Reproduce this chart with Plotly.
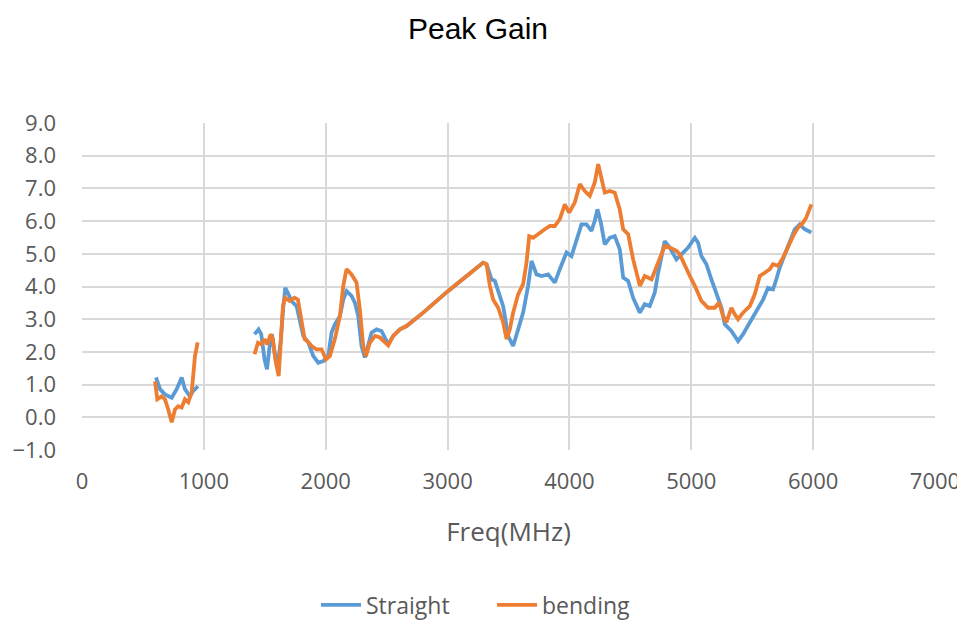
import plotly.graph_objects as go

# ---- data ----
straight_freq_lo = [607, 640, 681, 736, 777, 818, 845, 886, 911, 952]
straight_gain_lo = [1.22, 0.86, 0.70, 0.60, 0.86, 1.22, 0.86, 0.64, 0.80, 0.95]

straight_freq_hi = [1416, 1449, 1471, 1498, 1518, 1540, 1559, 1580, 1605, 1630, 1650, 1668, 1695,
                    1720, 1761, 1788, 1816, 1857, 1898, 1939, 1980, 2021, 2048, 2075, 2117, 2144,
                    2171, 2212, 2240, 2267, 2294, 2321, 2349, 2376, 2417, 2458, 2513, 2554, 2609,
                    2663, 2800, 3000, 3200, 3292, 3320, 3361, 3388, 3429, 3456, 3497, 3538, 3579,
                    3620, 3661, 3689, 3730, 3771, 3825, 3880, 3921, 3976, 4017, 4057, 4099, 4140,
                    4181, 4208, 4230, 4258, 4290, 4331, 4372, 4413, 4441, 4482, 4523, 4578, 4618,
                    4659, 4700, 4728, 4782, 4823, 4878, 4919, 4974, 5029, 5056, 5083, 5124, 5165,
                    5206, 5248, 5275, 5329, 5384, 5425, 5480, 5534, 5589, 5630, 5671, 5698, 5726,
                    5767, 5808, 5849, 5890, 5931, 5985]
straight_gain_hi = [2.54, 2.69, 2.54, 1.77, 1.47, 2.18, 2.54, 1.98, 1.60, 2.30, 3.30, 3.96, 3.76,
                    3.55, 3.40, 2.90, 2.49, 2.29, 1.87, 1.67, 1.72, 1.87, 2.59, 2.84, 3.10, 3.60,
                    3.86, 3.71, 3.50, 3.10, 2.18, 1.83, 2.18, 2.59, 2.69, 2.64, 2.23, 2.49, 2.69,
                    2.79, 3.20, 3.85, 4.45, 4.73, 4.68, 4.22, 4.17, 3.71, 3.40, 2.49, 2.18, 2.69,
                    3.20, 4.02, 4.78, 4.37, 4.32, 4.37, 4.12, 4.53, 5.04, 4.93, 5.44, 5.90, 5.90,
                    5.70, 6.01, 6.36, 5.95, 5.29, 5.49, 5.54, 5.14, 4.27, 4.17, 3.65, 3.20, 3.46,
                    3.40, 3.81, 4.42, 5.39, 5.19, 4.83, 4.98, 5.19, 5.49, 5.34, 4.93, 4.68, 4.22,
                    3.81, 3.35, 2.84, 2.64, 2.33, 2.54, 2.90, 3.25, 3.60, 3.96, 3.91, 4.22, 4.58,
                    4.98, 5.39, 5.75, 5.90, 5.75, 5.65]

bending_freq_lo = [599, 618, 654, 681, 708, 736, 763, 790, 818, 845, 872, 900, 927, 949]
bending_gain_lo = [1.10, 0.55, 0.64, 0.55, 0.24, -0.15, 0.24, 0.34, 0.30, 0.55, 0.46, 0.76, 1.87, 2.29]

bending_freq_hi = [1416, 1444, 1471, 1498, 1520, 1548, 1567, 1586, 1614, 1630, 1649, 1668, 1703,
                   1744, 1772, 1799, 1827, 1857, 1884, 1925, 1966, 2002, 2034, 2075, 2117, 2144,
                   2171, 2212, 2253, 2280, 2308, 2330, 2362, 2404, 2445, 2513, 2554, 2609, 2663,
                   2800, 3000, 3200, 3292, 3320, 3347, 3374, 3415, 3456, 3484, 3511, 3538, 3579,
                   3620, 3648, 3670, 3702, 3757, 3798, 3839, 3880, 3921, 3962, 3998, 4044, 4085,
                   4126, 4167, 4208, 4236, 4263, 4290, 4331, 4372, 4413, 4441, 4482, 4523, 4578,
                   4618, 4674, 4728, 4782, 4823, 4878, 4906, 4947, 4988, 5029, 5083, 5138, 5193,
                   5228, 5261, 5288, 5329, 5357, 5384, 5425, 5480, 5521, 5562, 5603, 5644, 5671,
                   5712, 5753, 5794, 5835, 5876, 5917, 5944, 5985]
bending_gain_hi = [1.93, 2.28, 2.23, 2.39, 2.23, 2.54, 2.39, 1.77, 1.26, 2.18, 3.40, 3.66, 3.56,
                   3.66, 3.60, 3.00, 2.39, 2.30, 2.18, 2.08, 2.08, 1.77, 1.87, 2.39, 3.10, 4.02,
                   4.53, 4.37, 4.12, 3.30, 2.18, 1.87, 2.28, 2.49, 2.44, 2.20, 2.49, 2.69, 2.79,
                   3.20, 3.85, 4.45, 4.73, 4.68, 4.02, 3.60, 3.35, 2.90, 2.39, 2.69, 3.20, 3.76,
                   4.07, 4.73, 5.54, 5.49, 5.65, 5.75, 5.85, 5.85, 6.06, 6.51, 6.26, 6.57, 7.13,
                   6.92, 6.77, 7.18, 7.74, 7.28, 6.87, 6.92, 6.87, 6.36, 5.75, 5.60, 4.83, 4.02,
                   4.32, 4.22, 4.73, 5.24, 5.19, 5.09, 4.98, 4.63, 4.32, 4.02, 3.56, 3.35, 3.35,
                   3.51, 3.10, 2.90, 3.35, 3.15, 3.00, 3.20, 3.40, 3.76, 4.32, 4.42, 4.53, 4.68,
                   4.63, 4.88, 5.24, 5.54, 5.80, 5.95, 6.11, 6.51]

x_ticks = [0, 1000, 2000, 3000, 4000, 5000, 6000, 7000]
y_ticks = [-1, 0, 1, 2, 3, 4, 5, 6, 7, 8, 9]

BLUE = "#5B9BD5"
ORANGE = "#ED7D31"
GRID = "#D9D9D9"
TXT = "#595959"
FONT = "Open Sans"

# the page body has an 8px margin, so the figure is sized/positioned to compensate
W, H = 957, 612

fig = go.Figure()
fig.add_trace(go.Scatter(
    x=straight_freq_lo + [None] + straight_freq_hi,
    y=straight_gain_lo + [None] + straight_gain_hi,
    mode="lines", name="Straight", connectgaps=False,
    line=dict(color=BLUE, width=3.8)))
fig.add_trace(go.Scatter(
    x=bending_freq_lo + [None] + bending_freq_hi,
    y=bending_gain_lo + [None] + bending_gain_hi,
    mode="lines", name="bending", connectgaps=False,
    line=dict(color=ORANGE, width=3.8)))

fig.update_layout(
    width=W, height=H, autosize=False,
    paper_bgcolor="white", plot_bgcolor="white",
    margin=dict(l=74, r=30, t=115, b=170, autoexpand=False),
    title=dict(text="Peak Gain", x=470 / W, xref="container", xanchor="center",
               y=1 - 20 / H, yref="container", yanchor="middle",
               font=dict(family="Liberation Sans", size=30, color="black")),
    xaxis=dict(range=[0, 7000], tickvals=x_ticks, showgrid=True, gridcolor=GRID, gridwidth=1.5,
               zeroline=False, showline=False, ticklabelstandoff=16, automargin=False,
               tickfont=dict(family=FONT, size=22, color=TXT),
               title=dict(text="Freq(MHz)", standoff=28, font=dict(family=FONT, size=26, color=TXT))),
    yaxis=dict(range=[-1, 9], tickvals=y_ticks, tickformat=".1f", showgrid=True, gridcolor=GRID,
               gridwidth=1.5, zeroline=False, showline=False, ticklabelstandoff=25, automargin=False,
               tickfont=dict(family=FONT, size=22, color=TXT)),
    legend=dict(orientation="h", x=308 / W, xanchor="left", xref="container",
                y=(442 - 597) / 327, yref="paper", yanchor="middle",
                entrywidth=121, entrywidthmode="pixels",
                font=dict(family=FONT, size=23, color=TXT), itemwidth=40, traceorder="normal"),
)
fig.write_html("out.html")
